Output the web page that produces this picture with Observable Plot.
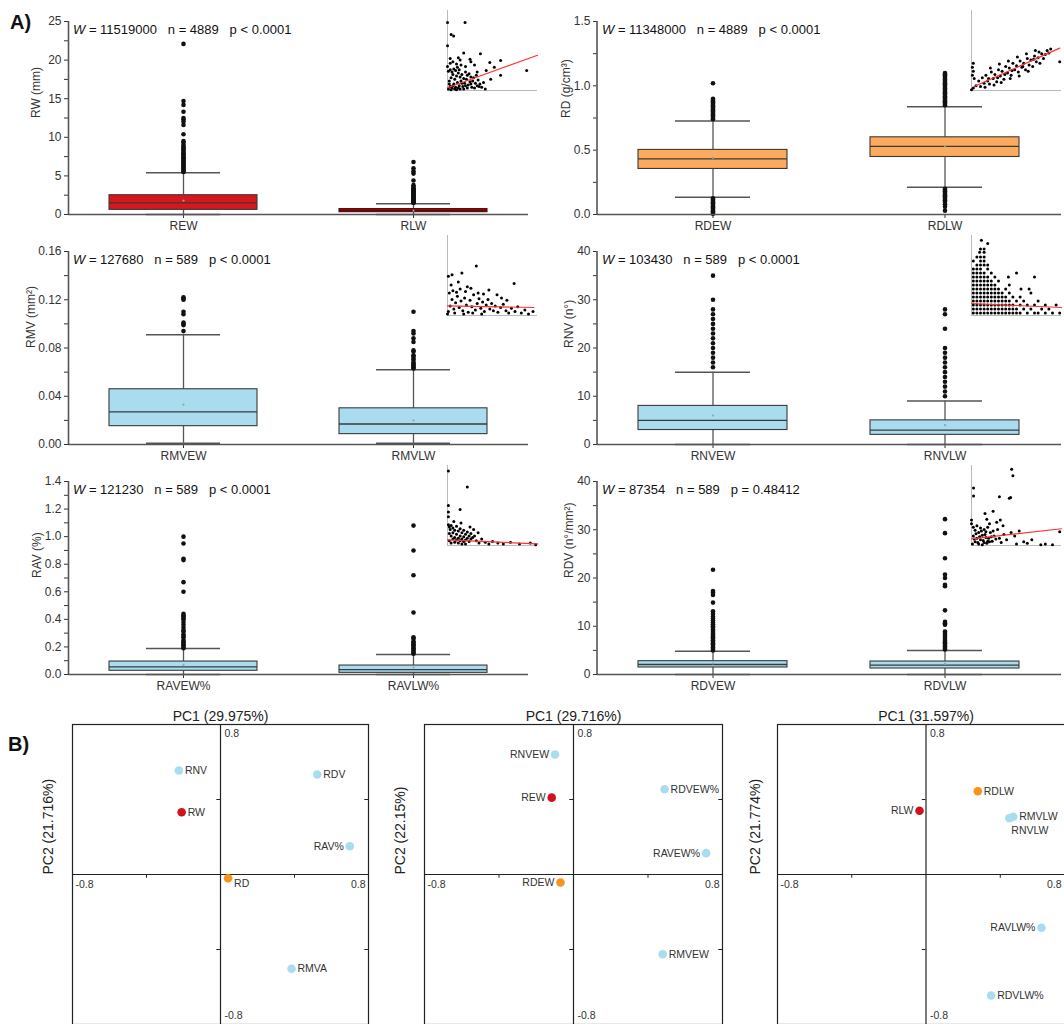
<!DOCTYPE html>
<html><head><meta charset="utf-8">
<script src="https://cdn.jsdelivr.net/npm/d3@7"></script>
<script src="https://cdn.jsdelivr.net/npm/@observablehq/plot@0.6"></script>
<style>
body{margin:0;background:#fff;overflow:hidden}
#fig{position:relative;width:1064px;height:1024px;overflow:hidden;background:#fff;font-family:"Liberation Sans",Arial,sans-serif;color:#111}
#fig > div.p{position:absolute}
#fig svg{max-width:none !important}
.stat{position:absolute;font-size:13px;white-space:pre;line-height:1;color:#111}
.tag{position:absolute;font-weight:bold;font-size:20px;line-height:1}
</style></head><body><div id="fig"></div><script>
// ---------------- Panel A data (box plot summaries) ----------------
const rwCats = ["REW", "RLW"];
const rwQ1 = [0.6, 0.3], rwMed = [1.5, 0.5], rwQ3 = [2.5, 0.7], rwLo = [0, 0], rwHi = [5.4, 1.4], rwMean = [1.8, 0.5];
const rwOutREW = [5.5,5.6,5.8,5.9,6.1,6.2,6.4,6.5,6.7,6.8,7.0,7.1,7.3,7.4,7.6,7.8,7.9,8.1,8.3,8.5,8.6,8.8,9.0,9.3,9.5,10.4,11.6,12.0,12.3,12.5,13.3,14.2,14.7,22.1];
const rwOutRLW = [1.5,1.6,1.7,1.8,1.9,2.0,2.1,2.2,2.3,2.4,2.5,2.6,2.7,2.8,2.9,3.0,3.1,3.2,3.3,3.4,3.6,3.8,4.4,5.3,5.6,6.0,6.8];
const rwStat = ["11519000", "4889", "p < 0.0001"];

const rdCats = ["RDEW", "RDLW"];
const rdQ1 = [0.354, 0.447], rdMed = [0.432, 0.53], rdQ3 = [0.502, 0.6], rdLo = [0.134, 0.212], rdHi = [0.727, 0.838], rdMean = [0.44, 0.53];
const rdOutRDEW = [0.74,0.75,0.76,0.77,0.78,0.79,0.80,0.81,0.82,0.83,0.84,0.85,0.86,0.87,0.88,0.89,0.90,1.02,0.005,0.015,0.025,0.035,0.045,0.055,0.065,0.075,0.085,0.095,0.105,0.115,0.125];
const rdOutRDLW = [0.85,0.86,0.87,0.88,0.89,0.90,0.91,0.92,0.93,0.94,0.95,0.96,0.97,0.98,0.99,1.00,1.01,1.02,1.03,1.04,1.05,1.06,1.07,1.08,1.09,1.10,0.03,0.06,0.08,0.10,0.11,0.12,0.13,0.14,0.15,0.16,0.17,0.18,0.19,0.20];
const rdStat = ["11348000", "4889", "p < 0.0001"];

const rmvCats = ["RMVEW", "RMVLW"];
const rmvQ1 = [0.0152, 0.0086], rmvMed = [0.027, 0.017], rmvQ3 = [0.0458, 0.030], rmvLo = [0.001, 0.001], rmvHi = [0.091, 0.062], rmvMean = [0.033, 0.02];
const rmvOutRMVEW = [0.094,0.099,0.100,0.101,0.108,0.110,0.120,0.121,0.122];
const rmvOutRMVLW = [0.063,0.064,0.065,0.066,0.067,0.068,0.070,0.071,0.073,0.074,0.077,0.078,0.085,0.088,0.092,0.094,0.110];
const rmvStat = ["127680", "589", "p < 0.0001"];

const rnvCats = ["RNVEW", "RNVLW"];
const rnvQ1 = [3, 2], rnvMed = [5, 3], rnvQ3 = [8, 5], rnvLo = [0, 0], rnvHi = [15, 9], rnvMean = [6, 4];
const rnvOutRNVEW = [16,17,18,19,20,21,22,23,24,25,26,27,28,30,35];
const rnvOutRNVLW = [10,11,12,13,14,15,16,17,18,19,20,24,27,28];
const rnvStat = ["103430", "589", "p < 0.0001"];

const ravCats = ["RAVEW%", "RAVLW%"];
const ravQ1 = [0.027, 0.012], ravMed = [0.055, 0.036], ravQ3 = [0.094, 0.065], ravLo = [0, 0], ravHi = [0.188, 0.145], ravMean = [0.07, 0.05];
const ravOutRAVEW = [0.19,0.20,0.21,0.22,0.23,0.24,0.25,0.27,0.28,0.29,0.31,0.32,0.34,0.36,0.38,0.40,0.41,0.42,0.43,0.44,0.60,0.67,0.83,0.84,0.95,1.00];
const ravOutRAVLW = [0.15,0.16,0.17,0.18,0.19,0.20,0.21,0.22,0.23,0.24,0.26,0.27,0.45,0.72,0.90,1.08];
const ravStat = ["121230", "589", "p < 0.0001"];

const rdvCats = ["RDVEW", "RDVLW"];
const rdvQ1 = [1.45, 1.24], rdvMed = [2.07, 1.93], rdvQ3 = [2.76, 2.69], rdvLo = [0, 0], rdvHi = [4.83, 4.97], rdvMean = [2.3, 2.2];
const rdvOutRDVEW = [5.0,5.3,5.6,5.9,6.2,6.5,6.8,7.1,7.4,7.7,8.0,8.3,8.6,9.0,9.3,9.7,10.0,10.4,10.8,11.2,11.6,12.0,12.6,13.1,14.9,16.5,17.0,17.3,21.7];
const rdvOutRDVLW = [5.2,5.5,5.8,6.1,6.4,6.7,7.0,7.4,7.8,8.2,8.6,8.9,10.3,10.6,10.9,13.3,18.3,18.6,20.0,20.7,24.1,29.3,32.2];
const rdvStat = ["87354", "589", "p = 0.48412"];

// y tick labels
const rwMajor = [0,5,10,15,20,25], rwMinor = [2.5,7.5,12.5,17.5,22.5];
const rdMajor = [0,0.5,1,1.5], rdMinor = [0.25,0.75,1.25];
const rmvMajor = [0,0.04,0.08,0.12,0.16], rmvMinor = [0.02,0.06,0.1,0.14];
const rnvMajor = [0,10,20,30,40], rnvMinor = [5,15,25,35];
const ravMajor = [0,0.2,0.4,0.6,0.8,1.0,1.2,1.4], ravMinor = [0.1,0.3,0.5,0.7,0.9,1.1,1.3];
const rdvMajor = [0,10,20,30,40], rdvMinor = [5,15,25,35];

// ---------------- Inset scatter data (normalised 0–10 units) ----------------
const insRW = [[0.1,0.2],[0.3,0.5],[0.5,0.3],[0.7,0.8],[0.9,0.4],[1.1,1.0],[1.3,0.6],[1.5,1.2],[1.7,0.5],[1.9,0.9],[2.1,1.4],[2.3,0.7],[2.5,1.1],[2.7,0.4],[2.9,1.6],[3.1,0.9],[3.3,0.6],[0.2,1.2],[0.4,1.6],[0.6,2.0],[0.8,1.4],[1.0,1.8],[1.2,2.2],[1.4,1.7],[1.6,2.0],[1.8,1.5],[2.0,2.3],[2.2,1.9],[2.4,2.1],[0.1,2.4],[0.3,2.6],[0.5,2.3],[0.7,2.7],[0.9,2.5],[1.1,2.9],[1.3,2.6],[0.0,3.0],[0.2,0.8],[0.4,0.1],[0.6,0.6],[0.8,0.2],[1.0,0.1],[1.2,0.3],[1.4,0.2],[1.6,0.9],[1.8,0.2],[2.0,0.6],[2.2,0.3],[2.6,0.8],[2.8,1.2],[3.0,0.3],[3.4,1.3],[3.6,0.8],[3.8,0.4],[4.0,1.0],[2.6,1.7],[3.2,1.9],[1.5,3.2],[2.0,3.0],[0.3,3.4],[0.6,3.6],[1.0,3.3],[0,8.5],[1.95,8.5],[0.4,7.0],[0.68,6.8],[0,5.6],[1.8,4.7],[3.66,4.6],[0.3,4.0],[1.2,4.1],[2.6,3.6],[4.7,3.5],[5.9,3.75],[5.2,2.9],[4.3,2.5],[3.3,2.3],[8.8,2.5],[5.9,1.9],[4.2,0.2],[3.5,0.5],[4.8,1.4],[2.5,3.9],[1.4,3.8],[3.0,3.2]];
const insRWline = [[0,0.35],[10,4.4]];
const insRD = [[0.5,0.6],[0.8,1.2],[1.0,0.5],[1.2,1.6],[1.4,0.9],[1.6,1.9],[1.8,1.2],[2.0,0.8],[2.2,2.3],[2.4,1.5],[2.6,2.0],[2.8,1.1],[3.0,2.6],[3.2,1.8],[3.4,2.4],[3.6,1.4],[3.8,3.0],[4.0,2.2],[4.2,2.8],[4.4,1.9],[4.6,3.4],[4.8,2.6],[5.0,3.1],[5.2,2.3],[5.4,3.7],[5.6,2.9],[5.8,3.4],[6.0,2.6],[6.2,4.0],[6.4,3.2],[6.6,3.8],[6.8,3.0],[7.0,4.3],[7.2,3.6],[7.4,4.1],[7.6,3.4],[7.8,4.6],[8.0,4.0],[8.2,4.5],[8.4,5.0],[8.6,4.7],[8.8,5.2],[1.5,0.4],[2.5,0.7],[3.3,1.0],[4.3,1.5],[5.3,1.8],[6.3,2.4],[2.1,2.8],[3.1,3.3],[4.1,3.7],[5.1,4.2],[6.1,4.6],[7.1,5.0],[4.5,2.5],[3.7,2.0],[5.7,3.0],[2.9,1.6],[1.9,1.5],[6.9,3.9],[7.5,4.8],[0.2,3.4],[0.1,2.9],[0.2,2.4],[0.1,1.9],[0.3,1.5],[0.2,0.3],[0,0.1],[9.8,3.6]];
const insRDline = [[0.3,0.5],[9.8,5.3]];
const insRMV = [[0.1,0.5],[0.3,1.2],[0.5,2.0],[0.7,0.8],[0.9,1.6],[1.1,2.4],[1.3,1.0],[1.5,1.8],[1.7,0.6],[1.9,2.2],[2.1,1.3],[2.3,0.4],[2.5,1.9],[2.7,1.1],[2.9,2.6],[3.1,0.7],[3.3,1.5],[3.5,2.1],[3.7,0.9],[3.9,1.7],[4.1,0.5],[4.3,1.3],[4.5,2.0],[4.7,0.8],[4.9,1.5],[5.1,0.6],[5.3,1.2],[5.6,0.4],[5.9,1.0],[6.2,1.4],[6.5,0.6],[6.8,0.3],[7.1,0.9],[7.5,0.5],[7.8,1.1],[8.2,0.3],[8.6,0.7],[9.0,0.2],[9.5,0.5],[0.2,2.8],[0.6,3.1],[1.0,2.9],[1.4,3.3],[2.0,3.0],[2.6,3.4],[3.4,2.8],[4.0,2.7],[0.4,3.8],[1.2,4.2],[2.2,3.6],[3.2,6.2],[7.4,4.0],[0.1,4.9],[0.5,5.1],[1.6,5.3],[4.6,3.2],[5.5,2.6],[6.0,2.2],[6.6,1.9],[0.0,0.2],[0.8,0.3],[1.8,0.2],[2.8,0.3],[3.8,0.2]];
const insRMVline = [[0,1.2],[9.6,1.0]];
const insRNVrowY = [0.3,0.8,1.3,1.8,2.3,2.8,3.3,3.8,4.3,4.8,5.3,5.8,6.3,6.8,7.3,7.9,8.3,9.0,9.4];
const insRNVrowX = [
  [0.2,0.6,1.0,1.4,1.8,2.2,2.6,3.0,3.4,3.8,4.2,4.6,5.0,5.4,6.2,7.0,7.4,8.2,9.0,9.8],
  [0.2,0.6,1.0,1.4,1.8,2.2,2.6,3.0,3.4,3.8,4.2,4.6,5.0,5.8,6.6,7.8,8.6],
  [0.2,0.6,1.0,1.4,1.8,2.2,2.6,3.0,3.4,3.8,4.2,4.6,5.4,6.2,7.0,8.2,9.4],
  [0.2,0.6,1.0,1.4,1.8,2.2,2.6,3.0,3.4,3.8,4.2,5.0,5.8,7.4],
  [0.2,0.6,1.0,1.4,1.8,2.2,2.6,3.0,3.4,3.8,4.6,5.4],
  [0.2,0.6,1.0,1.4,1.8,2.2,2.6,3.0,3.4,4.2,6.6],
  [0.2,0.6,1.0,1.4,1.8,2.2,2.6,3.0,3.8,5.5,6.4],
  [0.2,0.6,1.0,1.4,1.8,2.2,2.6,4.2],
  [0.2,0.6,1.0,1.4,1.8,2.2,3.0],
  [0.2,0.6,1.0,1.4,1.8,2.6,4.1,7.0],
  [0.2,0.6,1.0,1.4,2.2,5.0],
  [0.2,0.6,1.0,1.8],
  [0.6,1.0,1.4,1.8],
  [0.2,1.0,1.4],
  [0.6,1.0,1.4],
  [0.9,1.4],
  [1.0,1.4],
  [1.8],
  [1.1]];
const insRNVline = [[0,1.5],[10,1.0]];
const insRAV = [[0.1,9.3],[2.2,7.3],[1.4,4.5],[0.1,5.0],[0.1,4.2],[0.1,3.6],[0.1,2.6],[0.2,2.3],[0.4,2.5],[0.3,2.0],[0.6,2.2],[0.8,1.9],[1.0,2.4],[1.2,1.8],[1.4,2.1],[1.6,1.6],[1.8,1.9],[2.0,1.4],[2.2,1.7],[2.4,1.2],[2.6,1.5],[2.8,1.0],[3.0,1.2],[0.2,1.5],[0.4,1.2],[0.6,1.6],[0.8,1.0],[1.0,1.4],[1.2,0.9],[1.4,1.2],[1.6,0.8],[1.8,1.1],[2.0,0.7],[2.2,0.9],[2.4,0.5],[2.6,0.8],[0.2,0.6],[0.4,0.3],[0.6,0.8],[0.8,0.4],[1.0,0.7],[1.2,0.3],[1.4,0.6],[1.6,0.2],[1.8,0.5],[2.0,0.2],[3.2,0.6],[3.5,0.3],[3.8,0.8],[4.2,0.4],[4.6,0.2],[5.0,0.5],[5.6,0.3],[6.2,0.2],[7.0,0.4],[8.0,0.2],[9.2,0.3],[9.8,0.1],[3.4,1.6],[2.9,2.0],[2.5,2.3],[1.5,2.8],[0.7,3.0]];
const insRAVline = [[0,0.7],[10,0.2]];
const insRDV = [[4.46,10.5],[4.6,9.6],[0.23,7.9],[0.23,6.8],[3.1,6.7],[4.2,6.5],[4.35,6.6],[1.5,4.4],[2.4,4.7],[3.2,3.5],[9.8,1.9],[6.7,0.8],[7.7,0.1],[0,3.5],[0,3.0],[1.7,3.6],[2.8,3.2],[3.5,2.7],[4.8,1.3],[5.3,2.0],[5.8,0.5],[6.2,0.3],[8.2,0.2],[9.0,0.1],[5.0,0.2],[4.4,1.8],[2.0,3.0],[0.1,0.2],[0.3,0.9],[0.5,1.6],[0.7,0.4],[0.9,1.2],[1.1,2.0],[1.3,0.7],[1.5,1.5],[1.7,0.3],[1.9,1.0],[2.1,1.8],[2.3,0.6],[2.5,1.3],[2.7,0.9],[2.9,2.2],[0.2,2.5],[0.4,2.1],[0.6,2.7],[0.8,1.8],[1.0,2.4],[1.2,1.4],[1.4,2.2],[1.6,1.1],[1.8,2.5],[2.0,0.5],[2.2,1.2],[2.4,2.0],[0.2,1.3],[0.4,0.5],[0.6,1.0],[0.8,0.2],[1.0,0.8],[1.2,0.1],[1.4,0.4],[1.6,1.9],[1.8,0.6],[3.1,1.0],[3.3,0.4],[3.6,1.5],[3.9,0.8]];
const insRDVline = [[0,0.9],[10,2.3]];

// ---------------- Panel B data (PCA loadings) ----------------
const pca1Names = ["RNV","RW","RDV","RAV%","RD","RMVA"];
const pca1X = [-0.225,-0.21,0.523,0.699,0.041,0.384];
const pca1Y = [0.555,0.332,0.533,0.151,-0.02,-0.503];
const pca1Group = ["vessel","width","vessel","vessel","density","vessel"];
const pca2Names = ["RNVEW","REW","RDVEW%","RAVEW%","RDEW","RMVEW"];
const pca2X = [-0.099,-0.117,0.489,0.712,-0.07,0.479];
const pca2Y = [0.64,0.41,0.455,0.114,-0.043,-0.425];
const pca2Group = ["vessel","width","vessel","vessel","density","vessel"];
const pca3Names = ["RDLW","RLW","RMVLW","RNVLW","RAVLW%","RDVLW%"];
const pca3X = [0.279,-0.035,0.47,0.449,0.622,0.351];
const pca3Y = [0.444,0.34,0.308,0.3,-0.284,-0.645];
const pca3Group = ["density","width","vessel","vessel","vessel","vessel"];
const pcaTitles = ["PC1 (29.975%)","PC1 (29.716%)","PC1 (31.597%)"];
const pcaYLabels = ["PC2 (21.716%)","PC2 (22.15%)","PC2 (21.774%)"];
const pcaTickVals = [-0.8, 0.8];

// ---------------- styles ----------------
const FONT = '"Liberation Sans", Arial, sans-serif';
const groupColor = {vessel: "#a8dcef", width: "#d0121a", density: "#f7941d"};
const labelLeft = new Set(["RAV%","RNVEW","REW","RAVEW%","RDEW","RLW","RAVLW%"]);
const labelBelow = new Set(["RNVLW"]);
const labelLow = new Set(["RD"]);
const fig = document.getElementById("fig");

function place(node, left, top, w, h) {
  const d = document.createElement("div");
  d.className = "p"; d.style.left = left + "px"; d.style.top = top + "px";
  d.style.width = w + "px"; d.style.height = h + "px";
  d.appendChild(node); fig.appendChild(d);
}
function html(cls, left, top, inner) {
  const d = document.createElement("div");
  d.className = cls; d.style.left = left + "px"; d.style.top = top + "px";
  d.innerHTML = inner; fig.appendChild(d);
}
const fmtLab = d => d3.format(".1f")(d).replace("−", "-");

function boxPanel(o) {
  const rows = o.cats.map((c, i) => ({cat: c, q1: o.q1[i], med: o.med[i], q3: o.q3[i], lo: o.lo[i], hi: o.hi[i], mean: o.mean[i], color: o.colors[i], edge: o.edges[i]}));
  const outs = o.cats.flatMap((c, i) => o.out[i].map(v => ({cat: c, v})));
  const plotW = o.width - o.ml - o.mr;
  const half = plotW / 4;
  const [y0, y1] = o.domain;
  const ticks = o.major.concat(o.minor);
  return Plot.plot({
    width: o.width, height: 236, marginLeft: o.ml, marginRight: o.mr, marginTop: 21, marginBottom: 22,
    style: {fontFamily: FONT, fontSize: "12px", color: "#333", background: "transparent", overflow: "visible"},
    x: {domain: o.cats, paddingInner: 0.357, paddingOuter: 0.1785, label: null, tickSize: 4, tickPadding: 3},
    y: {domain: o.domain, ticks, tickFormat: d => o.major.includes(d) ? o.fmt(d) : "", tickSize: 4, tickPadding: 3, label: null},
    marks: [
      Plot.ruleX(rows, {x: "cat", y1: "lo", y2: "q1", stroke: "#555", strokeWidth: 1.3}),
      Plot.ruleX(rows, {x: "cat", y1: "q3", y2: "hi", stroke: "#555", strokeWidth: 1.3}),
      Plot.tickY(rows, {x: "cat", y: "hi", insetLeft: 37, insetRight: 37, stroke: "#555", strokeWidth: 1.5}),
      Plot.tickY(rows, {x: "cat", y: "lo", insetLeft: 37, insetRight: 37, stroke: "#555", strokeWidth: 1.5}),
      Plot.barY(rows, {x: "cat", y1: "q1", y2: "q3", fill: "color", stroke: "edge", strokeWidth: 1.1}),
      Plot.tickY(rows, {x: "cat", y: "med", stroke: "edge", strokeWidth: 1.3}),
      Plot.dot(rows, {x: "cat", y: "mean", r: 1.1, fill: "#8aa", stroke: null}),
      Plot.dot(outs, {x: "cat", y: "v", r: 2.3, fill: "#111", stroke: null}),
      Plot.ruleY([y0], {stroke: "#555", strokeWidth: 1.6}),
      Plot.ruleX([o.cats[0]], {x: d => d, y1: () => y0, y2: () => y1, dx: -half, stroke: "#555", strokeWidth: 1.6}),
      Plot.text([o.label], {text: d => d, frameAnchor: "left", rotate: -90, dx: -o.lo2, fontSize: 12, fill: "#333"})
    ]
  });
}

function inset(pts, line, ymax) {
  const data = pts.map(([x, y]) => ({x, y}));
  const ln = line.map(([x, y]) => ({x, y}));
  return Plot.plot({
    width: 97, height: 86, marginLeft: 4, marginRight: 3, marginTop: 3, marginBottom: 3,
    style: {background: "transparent", overflow: "visible"},
    x: {domain: [0, 10], axis: null}, y: {domain: [0, ymax], axis: null},
    marks: [
      Plot.ruleX([0], {stroke: "#aaa", strokeWidth: 0.8}),
      Plot.ruleY([0], {stroke: "#aaa", strokeWidth: 0.8}),
      Plot.dot(data, {x: "x", y: "y", r: 1.5, fill: "#000", stroke: null}),
      Plot.line(ln, {x: "x", y: "y", stroke: "#ff3333", strokeWidth: 1.2})
    ]
  });
}

function pcaPanel(names, xs, ys, groups, title, ylab, o) {
  const rows = names.map((n, i) => ({name: n, x: xs[i], y: ys[i], g: groups[i]}));
  const right = rows.filter(d => !labelLeft.has(d.name) && !labelBelow.has(d.name) && !labelLow.has(d.name));
  const left = rows.filter(d => labelLeft.has(d.name));
  const below = rows.filter(d => labelBelow.has(d.name));
  const low = rows.filter(d => labelLow.has(d.name));
  return Plot.plot({
    width: o.width, height: 334, marginLeft: o.ml, marginRight: o.mr, marginTop: 34, marginBottom: 0,
    style: {fontFamily: FONT, fontSize: "10.5px", color: "#333", background: "transparent", overflow: "visible"},
    x: {domain: [-0.8, 0.8], axis: null}, y: {domain: [-0.8, 0.8], axis: null},
    marks: [
      Plot.frame({stroke: "#222", strokeWidth: 1.2}),
      Plot.ruleX([0], {stroke: "#222", strokeWidth: 1.2}),
      Plot.ruleY([0], {stroke: "#222", strokeWidth: 1.2}),
      Plot.ruleX([-0.4, 0.4], {y1: () => 0, y2: () => -0.02, stroke: "#222"}),
      Plot.ruleY([-0.4, 0.4], {x1: () => 0, x2: () => -0.02, stroke: "#222"}),
      Plot.ruleY([-0.4, 0.4], {x1: () => 0.8, x2: () => 0.78, stroke: "#222"}),
      Plot.dot(rows, {x: "x", y: "y", r: 4.3, fill: d => groupColor[d.g], stroke: null}),
      Plot.text(right, {x: "x", y: "y", text: "name", dx: 6, textAnchor: "start", fill: "#333"}),
      Plot.text(left, {x: "x", y: "y", text: "name", dx: -6, textAnchor: "end", fill: "#333"}),
      Plot.text(below, {x: "x", y: "y", text: "name", dx: 2, dy: 12, textAnchor: "start", fill: "#333"}),
      Plot.text(low, {x: "x", y: "y", text: "name", dx: 6, dy: 5, textAnchor: "start", fill: "#333"}),
      Plot.text([pcaTickVals[1]], {x: () => 0, y: d => d, text: fmtLab, dx: 4, dy: 9, textAnchor: "start", fill: "#333"}),
      Plot.text([pcaTickVals[0]], {x: () => 0, y: d => d, text: fmtLab, dx: 4, dy: -9, textAnchor: "start", fill: "#333"}),
      Plot.text([pcaTickVals[0]], {x: d => d, y: () => 0, text: fmtLab, dx: 3, dy: 10, textAnchor: "start", fill: "#333"}),
      Plot.text([pcaTickVals[1]], {x: d => d, y: () => 0, text: fmtLab, dx: o.rdx, dy: 10, textAnchor: "end", fill: "#333"}),
      Plot.text([title], {text: d => d, frameAnchor: "top", dy: -13, fontSize: 14, fill: "#222"}),
      Plot.text([ylab], {text: d => d, frameAnchor: "left", rotate: -90, dx: -o.yl, fontSize: 14, fill: "#222"})
    ]
  });
}

const red = "#d9161b", dark = "#8e0c0c", orange = "#fbaa5e", blue = "#a8dcee";
const edge = "#3a3a3a", darkEdge = "#5a0808";
const L = {left: 0, width: 540, ml: 68, mr: 12};
const R = {left: 530, width: 534, ml: 67, mr: 3};
const panels = [
  [L, 0, {cats: rwCats, q1: rwQ1, med: rwMed, q3: rwQ3, lo: rwLo, hi: rwHi, mean: rwMean, out: [rwOutREW, rwOutRLW], colors: [red, dark], edges: [edge, darkEdge], domain: [0, 25], major: rwMajor, minor: rwMinor, fmt: d3.format("d"), label: "RW (mm)", lo2: 32}, rwStat, insRW, insRWline, 10],
  [R, 0, {cats: rdCats, q1: rdQ1, med: rdMed, q3: rdQ3, lo: rdLo, hi: rdHi, mean: rdMean, out: [rdOutRDEW, rdOutRDLW], colors: [orange, orange], edges: [edge, edge], domain: [0, 1.5], major: rdMajor, minor: rdMinor, fmt: d3.format(".1f"), label: "RD (g/cm³)", lo2: 31}, rdStat, insRD, insRDline, 10],
  [L, 230, {cats: rmvCats, q1: rmvQ1, med: rmvMed, q3: rmvQ3, lo: rmvLo, hi: rmvHi, mean: rmvMean, out: [rmvOutRMVEW, rmvOutRMVLW], colors: [blue, blue], edges: [edge, edge], domain: [0, 0.16], major: rmvMajor, minor: rmvMinor, fmt: d3.format(".2f"), label: "RMV (mm²)", lo2: 37}, rmvStat, insRMV, insRMVline, 10],
  [R, 230, {cats: rnvCats, q1: rnvQ1, med: rnvMed, q3: rnvQ3, lo: rnvLo, hi: rnvHi, mean: rnvMean, out: [rnvOutRNVEW, rnvOutRNVLW], colors: [blue, blue], edges: [edge, edge], domain: [0, 40], major: rnvMajor, minor: rnvMinor, fmt: d3.format("d"), label: "RNV (n°)", lo2: 28}, rnvStat, insRNVrowY.flatMap((y, i) => insRNVrowX[i].map(x => [x, y])), insRNVline, 10],
  [L, 460, {cats: ravCats, q1: ravQ1, med: ravMed, q3: ravQ3, lo: ravLo, hi: ravHi, mean: ravMean, out: [ravOutRAVEW, ravOutRAVLW], colors: [blue, blue], edges: [edge, edge], domain: [0, 1.4], major: ravMajor, minor: ravMinor, fmt: d3.format(".1f"), label: "RAV (%)", lo2: 31}, ravStat, insRAV, insRAVline, 10],
  [R, 460, {cats: rdvCats, q1: rdvQ1, med: rdvMed, q3: rdvQ3, lo: rdvLo, hi: rdvHi, mean: rdvMean, out: [rdvOutRDVEW, rdvOutRDVLW], colors: [blue, blue], edges: [edge, edge], domain: [0, 40], major: rdvMajor, minor: rdvMinor, fmt: d3.format("d"), label: "RDV (n°/mm²)", lo2: 28}, rdvStat, insRDV, insRDVline, 11]
];
for (const [col, top, o, stat, ipts, iline, iymax] of panels) {
  place(boxPanel({...o, width: col.width, ml: col.ml, mr: col.mr}), col.left, top, col.width, 236);
  html("stat", col.left + col.ml + 5, top + 23, `<i>W</i> = ${stat[0]}   n = ${stat[1]}   ${stat[2]}`);
  const insetTop = top === 0 ? 7 : top === 230 ? 232 : 462;
  place(inset(ipts, iline, iymax), col === L ? 443 : 967, insetTop, 97, 86);
}

place(pcaPanel(pca1Names, pca1X, pca1Y, pca1Group, pcaTitles[0], pcaYLabels[0], {width: 380, ml: 72, mr: 12, yl: 24, rdx: -3}), 0, 690, 380, 334);
place(pcaPanel(pca2Names, pca2X, pca2Y, pca2Group, pcaTitles[1], pcaYLabels[1], {width: 360, ml: 44, mr: 18, yl: 24, rdx: -3}), 380, 690, 360, 334);
place(pcaPanel(pca3Names, pca3X, pca3Y, pca3Group, pcaTitles[2], pcaYLabels[2], {width: 340, ml: 37, mr: 6, yl: 22, rdx: -13}), 740, 690, 340, 334);

html("tag", 10, 12, "A)");
html("tag", 8, 734, "B)");
</script></body></html>
